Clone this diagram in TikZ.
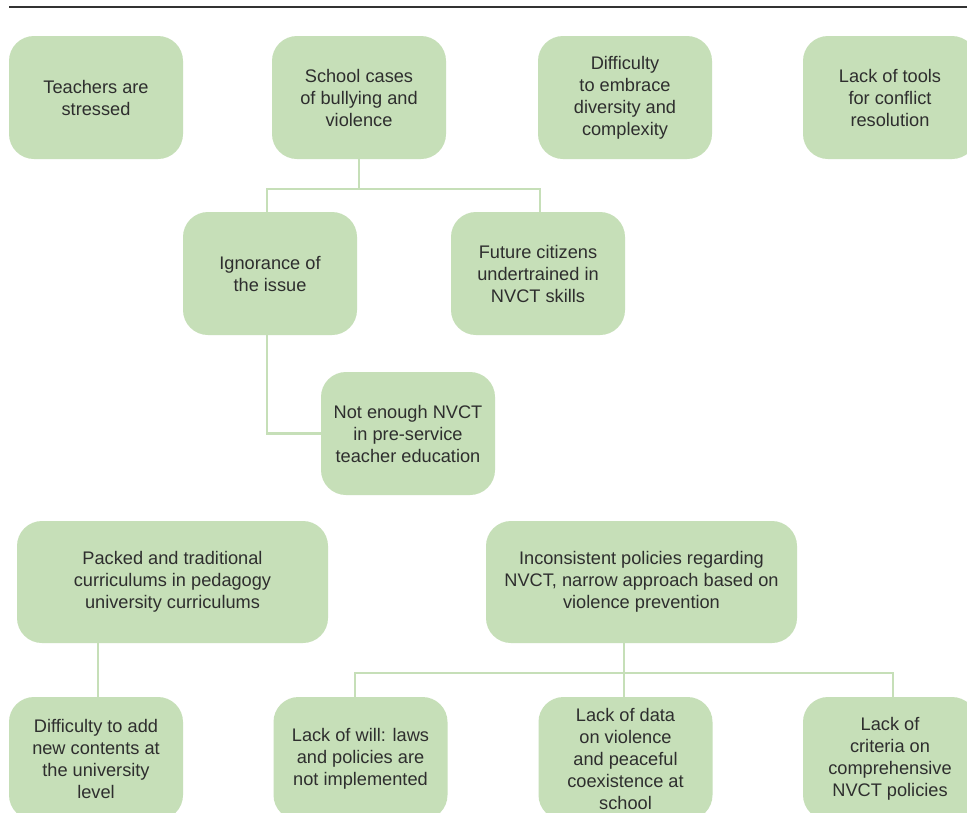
\documentclass[tikz,border=0pt]{standalone}
\usepackage{fontspec}
\setmainfont{Liberation Sans}
\definecolor{boxfill}{HTML}{C6DFB8}
\definecolor{txt}{HTML}{2E2E2E}
\definecolor{rule}{HTML}{333333}
\begin{document}
\begin{tikzpicture}[x=1pt,y=-1pt,
  box/.style={rectangle, rounded corners=25pt, fill=boxfill, draw=none,
    minimum width=174pt, minimum height=123pt, inner sep=0pt,
    align=center, text=txt, font=\fontsize{18.2}{22}\selectfont},
  widebox/.style={box, minimum width=311pt, minimum height=122pt},
  conn/.style={draw=boxfill, line width=2.6pt}]
\useasboundingbox (0,0) rectangle (967,812);
\clip (0,0) rectangle (967,812);
\fill[white] (0,0) rectangle (967,812);
\coordinate (r1) at (9,7);
\coordinate (r2) at (967,7);
\draw[rule, line width=2.6pt] (r1) -- (r2);
% top row
\node[box] (t1) at (96,97.5) {Teachers are\\stressed};
\node[box] (t2) at (359,97.5) {School cases\\of bullying and\\violence};
\node[box] (t3) at (625,97.5) {Difficulty\\to embrace\\diversity and\\complexity};
\node[box] (t4) at (890,97.5) {Lack of tools\\for conflict\\resolution};
% middle
\node[box] (m1) at (270,273.5) {Ignorance of\\the issue};
\node[box] (m2) at (538,273.5) {Future citizens\\undertrained in\\NVCT skills};
\node[box] (m3) at (408,433.5) {Not enough NVCT\\in pre-service\\teacher education};
% bottom
\node[widebox] (b1) at (172.5,582) {Packed and traditional\\curriculums in pedagogy\\university curriculums};
\node[widebox] (b2) at (641.5,582) {Inconsistent policies regarding\\NVCT, narrow approach based on\\violence prevention};
\node[box] (b3) at (96,758.5) {Difficulty to add\\new contents at\\the university\\level};
\node[box] (b4) at (360.5,758.5) {Lack of will: laws\\and policies are\\not implemented};
\node[box] (b5) at (625.5,758.5) {Lack of data\\on violence\\and peaceful\\coexistence at\\school};
\node[box] (b6) at (890,758.5) {Lack of\\criteria on\\comprehensive\\NVCT policies};
% connectors top
\coordinate (ja) at (267,189);
\coordinate (jb) at (540,189);
\draw[conn] (t2.south) -- (t2.south |- ja);
\draw[conn] (m1.north -| ja) |- (jb) -- (jb |- m2.north);
\draw[conn] (m1.south -| ja) |- (m3.west);
% connectors bottom
\coordinate (kx) at (98,670);
\draw[conn] (b1.south -| kx) -- (kx |- b3.north);
\coordinate (ka) at (355,673);
\coordinate (kb) at (893,673);
\coordinate (kc) at (624,673);
\draw[conn] (b2.south -| kc) -- (kc |- b5.north);
\draw[conn] (ka |- b4.north) |- (kb) -- (kb |- b6.north);
\end{tikzpicture}
\end{document}
